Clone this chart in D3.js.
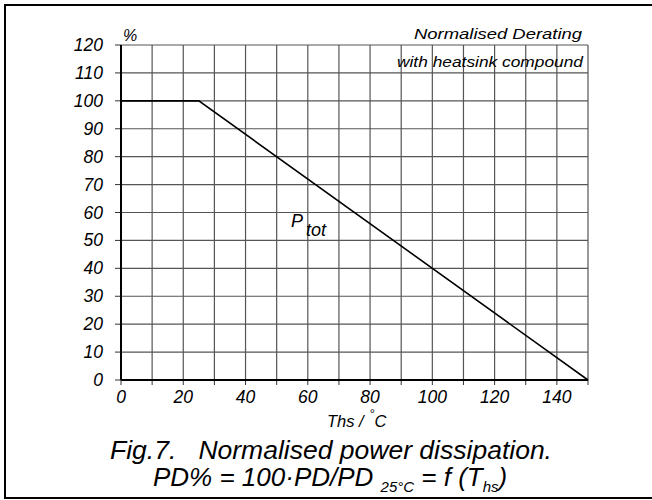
<!DOCTYPE html>
<html>
<head>
<meta charset="utf-8">
<script src="https://cdn.jsdelivr.net/npm/d3@7"></script>
<style>
  body { margin: 0; background: #fff; }
  svg text { font-family: "Liberation Sans", Arial, sans-serif; font-style: italic; fill: #000; }
</style>
</head>
<body>
<div id="chart"></div>
<script>
// derating curve: heatsink temperature (°C) vs normalised power (%)
const tempValues = [0, 25, 150];
const powerValues = [100, 100, 0];
const xTickValues = [0, 20, 40, 60, 80, 100, 120, 140];
const yTickValues = [0, 10, 20, 30, 40, 50, 60, 70, 80, 90, 100, 110, 120];
const xGridValues = d3.range(0, 151, 10);

const width = 652, height = 500;
const plotLeft = 121, plotRight = 588, plotTop = 45, plotBottom = 380;

const svg = d3.select("#chart").append("svg")
    .attr("width", width)
    .attr("height", height);

// outer frame (no right edge in the original)
svg.append("path")
    .attr("d", `M${width},5 H5 V498 H${width}`)
    .attr("fill", "none")
    .attr("stroke", "#000")
    .attr("stroke-width", 2);

const x = d3.scaleLinear().domain([0, 150]).range([plotLeft, plotRight]);
const y = d3.scaleLinear().domain([0, 120]).range([plotBottom, plotTop]);

// grid
svg.append("g").selectAll("line")
    .data(xGridValues)
    .join("line")
    .attr("x1", d => x(d)).attr("x2", d => x(d))
    .attr("y1", plotTop).attr("y2", plotBottom)
    .attr("stroke", "#555")
    .attr("stroke-width", 1.2);

svg.append("g").selectAll("line")
    .data(yTickValues)
    .join("line")
    .attr("x1", plotLeft).attr("x2", plotRight)
    .attr("y1", d => y(d)).attr("y2", d => y(d))
    .attr("stroke", "#555")
    .attr("stroke-width", 1.2);

// small ticks outside the plot
svg.append("g").selectAll("line")
    .data(yTickValues)
    .join("line")
    .attr("x1", plotLeft - 6).attr("x2", plotLeft)
    .attr("y1", d => y(d)).attr("y2", d => y(d))
    .attr("stroke", "#333");

svg.append("g").selectAll("line")
    .data(xGridValues)
    .join("line")
    .attr("x1", d => x(d)).attr("x2", d => x(d))
    .attr("y1", plotBottom).attr("y2", plotBottom + 5)
    .attr("stroke", "#333");

// axes lines
svg.append("line")
    .attr("x1", plotLeft).attr("x2", plotLeft).attr("y1", plotTop).attr("y2", plotBottom)
    .attr("stroke", "#000").attr("stroke-width", 2);
svg.append("line")
    .attr("x1", plotLeft).attr("x2", plotRight).attr("y1", plotBottom).attr("y2", plotBottom)
    .attr("stroke", "#000").attr("stroke-width", 2);

// tick labels
svg.append("g").selectAll("text")
    .data(yTickValues)
    .join("text")
    .attr("x", 103)
    .attr("y", d => y(d) + 6)
    .attr("text-anchor", "end")
    .attr("font-size", 17.5)
    .text(d => d);

svg.append("g").selectAll("text")
    .data(xTickValues)
    .join("text")
    .attr("x", d => x(d))
    .attr("y", 403)
    .attr("text-anchor", "middle")
    .attr("font-size", 17.5)
    .text(d => d);

// curve
const line = d3.line()
    .x((d, i) => x(tempValues[i]))
    .y(d => y(d));

svg.append("path")
    .datum(powerValues)
    .attr("d", line)
    .attr("fill", "none")
    .attr("stroke", "#000")
    .attr("stroke-width", 1.6);

// labels
svg.append("text").attr("x", 123).attr("y", 41).attr("font-size", 16).text("%");

svg.append("text").attr("x", 582).attr("y", 39).attr("text-anchor", "end")
    .attr("font-size", 15.5)
    .attr("textLength", 168).attr("lengthAdjust", "spacingAndGlyphs")
    .text("Normalised Derating");
svg.append("text").attr("x", 583).attr("y", 67).attr("text-anchor", "end")
    .attr("font-size", 14.5)
    .attr("textLength", 186).attr("lengthAdjust", "spacingAndGlyphs")
    .text("with heatsink compound");

const ptot = svg.append("text").attr("x", 291).attr("y", 227).attr("font-size", 18);
ptot.append("tspan").text("P");
ptot.append("tspan").attr("dx", 3).attr("dy", 9).text("tot");

const xl = svg.append("text").attr("x", 327).attr("y", 427).attr("font-size", 16.5);
xl.append("tspan").text("Ths / ");
xl.append("tspan").attr("dx", 1).attr("dy", -9).attr("font-size", 13).text("°");
xl.append("tspan").attr("dy", 9).text("C");

svg.append("text").attr("x", 110).attr("y", 459).attr("font-size", 25)
    .attr("xml:space", "preserve")
    .style("white-space", "pre")
    .attr("textLength", 442).attr("lengthAdjust", "spacingAndGlyphs")
    .text("Fig.7.   Normalised power dissipation.");

const cap = svg.append("text").attr("x", 153).attr("y", 486).attr("font-size", 26);
cap.append("tspan").text("PD% = 100·PD/PD ");
cap.append("tspan").attr("dy", 6).attr("font-size", 15).text("25°C");
cap.append("tspan").attr("dy", -6).text(" = f (T");
cap.append("tspan").attr("dy", 6).attr("font-size", 15).text("hs");
cap.append("tspan").attr("dy", -6).text(")");
</script>
</body>
</html>
